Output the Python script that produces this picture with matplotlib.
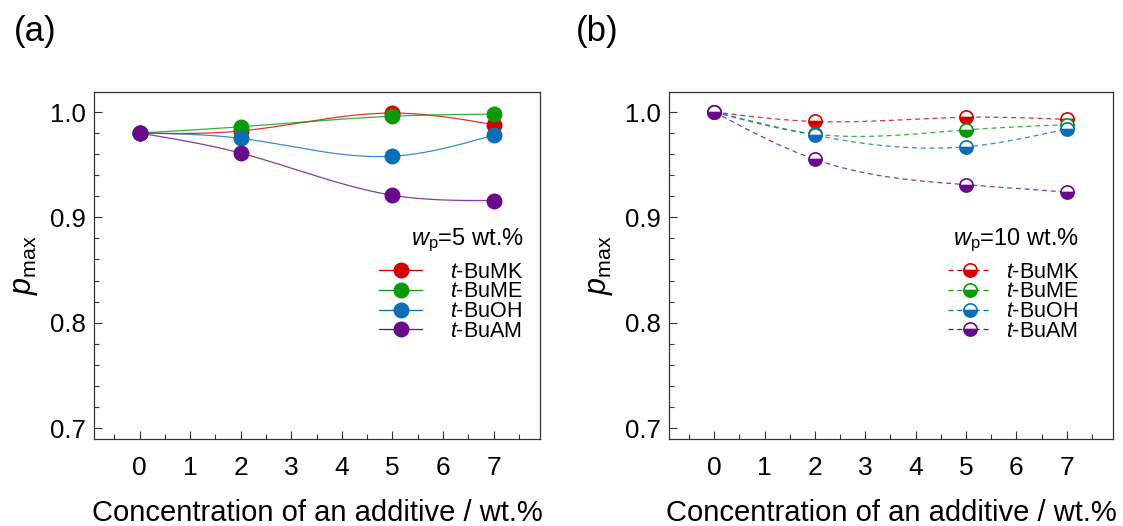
import matplotlib.pyplot as plt
from matplotlib.ticker import MultipleLocator
import numpy as np

plt.rcParams['font.family'] = ['Liberation Sans', 'DejaVu Sans']
plt.rcParams['mathtext.fontset'] = 'custom'
plt.rcParams['mathtext.rm'] = 'Liberation Sans'
plt.rcParams['mathtext.it'] = 'Liberation Sans:italic'

# additive concentration, wt.%
conc = [0, 2, 5, 7]
additives = ['t-BuMK', 't-BuME', 't-BuOH', 't-BuAM']
colors = ['#d40000', '#0a9a0a', '#0b6fb5', '#6a0a8a']

# p_max at w_p = 5 wt.%
pmax_5_bumk = [0.980, 0.982, 0.999, 0.988]
pmax_5_bume = [0.980, 0.986, 0.996, 0.998]
pmax_5_buoh = [0.980, 0.975, 0.958, 0.978]
pmax_5_buam = [0.980, 0.961, 0.921, 0.916]

# p_max at w_p = 10 wt.%
pmax_10_bumk = [1.000, 0.991, 0.995, 0.993]
pmax_10_bume = [1.000, 0.979, 0.983, 0.988]
pmax_10_buoh = [1.000, 0.978, 0.967, 0.984]
pmax_10_buam = [1.000, 0.955, 0.931, 0.924]

series_5 = [pmax_5_bumk, pmax_5_bume, pmax_5_buoh, pmax_5_buam]
series_10 = [pmax_10_bumk, pmax_10_bume, pmax_10_buoh, pmax_10_buam]


def natural_spline(x, y, n=200):
    # natural cubic spline through the points, for the connecting curve
    x = np.asarray(x, float)
    y = np.asarray(y, float)
    k = len(x)
    h = np.diff(x)
    A = np.zeros((k, k))
    b = np.zeros(k)
    A[0, 0] = A[-1, -1] = 1
    for i in range(1, k - 1):
        A[i, i - 1] = h[i - 1]
        A[i, i] = 2 * (h[i - 1] + h[i])
        A[i, i + 1] = h[i]
        b[i] = 6 * ((y[i + 1] - y[i]) / h[i] - (y[i] - y[i - 1]) / h[i - 1])
    M = np.linalg.solve(A, b)
    xs = np.linspace(x[0], x[-1], n)
    idx = np.clip(np.searchsorted(x, xs) - 1, 0, k - 2)
    x0, x1 = x[idx], x[idx + 1]
    hh = x1 - x0
    t0, t1 = x1 - xs, xs - x0
    ys = (M[idx] * t0**3 + M[idx + 1] * t1**3) / (6 * hh) \
        + (y[idx] / hh - M[idx] * hh / 6) * t0 \
        + (y[idx + 1] / hh - M[idx + 1] * hh / 6) * t1
    return xs, ys


fig = plt.figure(figsize=(11.23, 5.26), dpi=100)
ax1 = fig.add_axes([0.0837, 0.1654, 0.3972, 0.6597])
ax2 = fig.add_axes([0.5957, 0.1654, 0.3954, 0.6597])


def style_axis(ax):
    ax.set_xlim(-0.9, 7.92)
    ax.set_ylim(0.6896, 1.019)
    ax.xaxis.set_major_locator(MultipleLocator(1))
    ax.xaxis.set_minor_locator(MultipleLocator(0.5))
    ax.yaxis.set_major_locator(MultipleLocator(0.1))
    ax.yaxis.set_minor_locator(MultipleLocator(0.02))
    ax.tick_params(which='both', direction='in', top=False, right=False, color='#333333')
    ax.tick_params(which='major', length=6, width=0.8)
    ax.tick_params(which='minor', length=3.5, width=0.8)
    ax.tick_params(axis='y', labelsize=18.5, pad=6)
    ax.tick_params(axis='x', labelsize=19, pad=12)
    ax.yaxis.set_major_formatter(plt.FuncFormatter(lambda v, p: f'{v:.1f}'))
    for sp in ax.spines.values():
        sp.set_linewidth(0.9)
        sp.set_color('#333333')
    ax.set_xlabel('Concentration of an additive / wt.%', fontsize=21, labelpad=14)
    ax.set_ylabel(r'$p_{\mathrm{max}}$', fontsize=22, labelpad=7)


labels = [r'$t$-BuMK', r'$t$-BuME', r'$t$-BuOH', r'$t$-BuAM']
leg_kw = dict(loc='upper right', frameon=False, fontsize=15.5, labelspacing=-0.06,
              handlelength=2.0, borderpad=0, borderaxespad=0)

# (a) w_p = 5 wt.%: filled markers, solid curves
for vals, c in zip(series_5, colors):
    xs, ys = natural_spline(conc, vals)
    ax1.plot(xs, ys, color=c, lw=0.9, alpha=0.8)
for vals, c in zip(series_5, colors):
    ax1.plot(conc, vals, 'o', color=c, ms=10.5, mec=c, ls='none')
handles_a = [ax1.plot([], [], '-o', color=c, lw=0.9, ms=10.5)[0] for c in colors]
ax1.legend(handles_a, labels, bbox_to_anchor=(0.963, 0.511), handletextpad=1.3, **leg_kw)
ax1.text(0.963, 0.573, r'$w_{\mathrm{p}}$=5 wt.%', transform=ax1.transAxes,
         ha='right', va='center', fontsize=17)

# (b) w_p = 10 wt.%: half-filled markers, dashed curves
for vals, c in zip(series_10, colors):
    xs, ys = natural_spline(conc, vals)
    ax2.plot(xs, ys, color=c, lw=0.9, ls=(0, (4, 3)), alpha=0.8)
for vals, c in zip(series_10, colors):
    ax2.plot(conc, vals, 'o', color=c, ms=9.5, mec=c, mew=1.2, fillstyle='bottom',
             markerfacecoloralt='white', ls='none')
handles_b = [ax2.plot([], [], 'o', color=c, ls=(0, (4, 3)), lw=0.9, ms=9.5, mec=c, mew=1.2,
                      fillstyle='bottom', markerfacecoloralt='white')[0] for c in colors]
ax2.legend(handles_b, labels, bbox_to_anchor=(0.925, 0.511), handletextpad=0.7, **leg_kw)
ax2.text(0.923, 0.573, r'$w_{\mathrm{p}}$=10 wt.%', transform=ax2.transAxes,
         ha='right', va='center', fontsize=17)

for ax in (ax1, ax2):
    style_axis(ax)

fig.text(0.012, 0.94, '(a)', fontsize=25, va='center', ha='left')
fig.text(0.513, 0.94, '(b)', fontsize=25, va='center', ha='left')

fig.savefig('out.png', dpi=100)
